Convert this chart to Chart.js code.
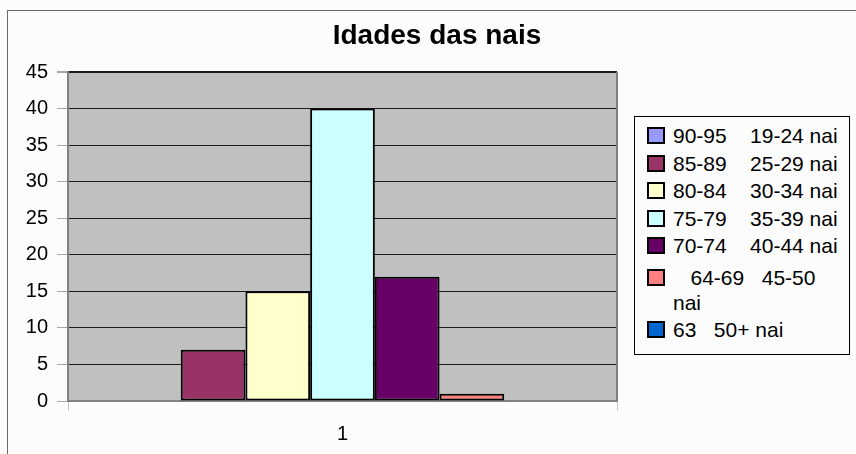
<!DOCTYPE html>
<html lang="pt">
<head>
    <meta charset="UTF-8">
    <title>Idades das nais</title>
    <style>
        html, body {
            margin: 0;
            padding: 0;
            background-color: #fcfcfc;
            overflow: hidden;
            font-family: "Liberation Sans", Arial, sans-serif;
        }
        .stage {
            position: relative;
            width: 856px;
            height: 454px;
            overflow: hidden;
        }
        .frame {
            position: absolute;
            left: 7px;
            top: 10px;
            width: 900px;
            height: 500px;
            border: 1px solid #6a6a6a;
        }
        .title {
            position: absolute;
            left: 0;
            top: 21px;
            width: 874px;
            text-align: center;
            font-weight: bold;
            font-size: 28px;
            line-height: 28px;
            color: #000;
        }
        canvas {
            position: absolute;
            left: 0;
            top: 0;
        }
        .legend {
            position: absolute;
            left: 634px;
            top: 116px;
            width: 214px;
            height: 237px;
            border: 1px solid #000;
            background-color: #fcfcfc;
            box-sizing: content-box;
            padding: 0;
        }
        .legend ul {
            list-style: none;
            margin: 0;
            padding: 5px 0 0 0;
        }
        .legend li {
            position: relative;
            padding-left: 38px;
            width: 170px;
            font-size: 21px;
            line-height: 27.5px;
            white-space: pre-wrap;
            color: #000;
        }
        .legend li.wrap {
            line-height: 25px;
            margin-top: 5.5px;
            margin-bottom: 1px;
        }
        .legend .swatch {
            position: absolute;
            left: 12px;
            width: 18px;
            height: 17px;
            box-sizing: border-box;
            border: 2px solid #000;
        }
    </style>
</head>
<body>
    <div class="stage">
        <div class="frame"></div>
        <canvas id="chart" width="856" height="454"></canvas>
        <div class="title">Idades das nais</div>
        <div class="legend"><ul id="legendList"></ul></div>
    </div>

    <script src="https://cdn.jsdelivr.net/npm/chart.js"></script>
    <script>
        // Dados
        const categories = ['1'];
        const seriesLabels = [
            '90-95    19-24 nai',
            '85-89    25-29 nai',
            '80-84    30-34 nai',
            '75-79    35-39 nai',
            '70-74    40-44 nai',
            '   64-69   45-50 nai',
            '63   50+ nai'
        ];
        const seriesValues = [0, 7, 15, 40, 17, 1, 0];
        const seriesColors = ['#9999ff', '#993366', '#ffffcc', '#ccffff', '#660066', '#ff8080', '#0066cc'];
        const yTicks = [0, 5, 10, 15, 20, 25, 30, 35, 40, 45];

        Chart.defaults.font.family = '"Liberation Sans", Arial, sans-serif';

        // Fundo cinzento da área do gráfico e borda direita
        const plotArea = {
            id: 'plotArea',
            beforeDraw(chart) {
                const a = chart.chartArea;
                const ctx = chart.ctx;
                ctx.save();
                ctx.fillStyle = '#c0c0c0';
                ctx.fillRect(a.left, a.top, a.right - a.left, a.bottom - a.top);
                ctx.restore();
            },
            afterDraw(chart) {
                const a = chart.chartArea;
                const ctx = chart.ctx;
                ctx.save();
                ctx.strokeStyle = '#808080';
                ctx.lineWidth = 2;
                ctx.beginPath();
                ctx.moveTo(a.right, a.top);
                ctx.lineTo(a.right, a.bottom + 1);
                ctx.stroke();
                ctx.restore();
            }
        };

        const datasets = seriesLabels.map((label, i) => ({
            label: label,
            data: [seriesValues[i]],
            backgroundColor: seriesColors[i],
            borderColor: '#000',
            borderWidth: 2,
            borderSkipped: false
        }));

        new Chart(document.getElementById('chart').getContext('2d'), {
            type: 'bar',
            data: { labels: categories, datasets: datasets },
            options: {
                responsive: false,
                animation: false,
                layout: { padding: { left: 0, right: 239, top: 72, bottom: 0 } },
                datasets: { bar: { categoryPercentage: 0.825, barPercentage: 1 } },
                plugins: {
                    legend: { display: false },
                    tooltip: { enabled: false }
                },
                scales: {
                    x: {
                        grid: { offset: true, drawOnChartArea: false, tickLength: 10, color: '#c8c8c8' },
                        border: { color: '#808080', width: 2 },
                        ticks: { font: { size: 20 }, color: '#000', padding: 11 },
                        afterFit: s => { s.height = 53; }
                    },
                    y: {
                        min: yTicks[0],
                        max: yTicks[yTicks.length - 1],
                        afterBuildTicks: s => { s.ticks = yTicks.map(v => ({ value: v })); },
                        ticks: { font: { size: 20 }, color: '#000', padding: 9 },
                        grid: {
                            color: c => c.tick.value === 0 ? '#808080' : '#1a1a1a',
                            lineWidth: c => c.tick.value === 45 ? 2 : 1,
                            tickColor: '#a8a8a8',
                            tickLength: 11
                        },
                        border: { color: '#808080', width: 2 },
                        afterFit: s => { s.width = 68; }
                    }
                }
            },
            plugins: [plotArea]
        });

        // Legenda com moldura, como no original
        const list = document.getElementById('legendList');
        seriesLabels.forEach((label, i) => {
            const li = document.createElement('li');
            if (label.startsWith(' ')) li.className = 'wrap';
            const sw = document.createElement('span');
            sw.className = 'swatch';
            sw.style.background = seriesColors[i];
            sw.style.top = (label.startsWith(' ') ? 4 : 5) + 'px';
            li.appendChild(sw);
            li.appendChild(document.createTextNode(label));
            list.appendChild(li);
        });
    </script>
</body>
</html>
